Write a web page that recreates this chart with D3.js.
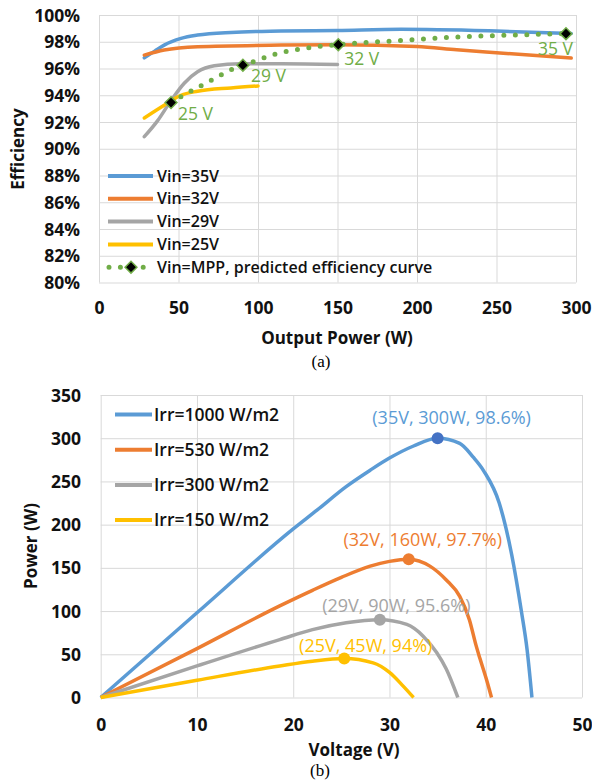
<!DOCTYPE html>
<html>
<head>
<meta charset="utf-8">
<script src="https://cdn.jsdelivr.net/npm/d3@7"></script>
<style>
  body { margin: 0; background: #fff; }
  svg { display: block; }
</style>
</head>
<body>
<svg id="fig" width="592" height="780"></svg>
<script>
// ---- (a) efficiency vs output power ----
const powerTicks = [0, 50, 100, 150, 200, 250, 300]
const effTicks = [80, 82, 84, 86, 88, 90, 92, 94, 96, 98, 100]
const effNames = ["Vin=35V", "Vin=32V", "Vin=29V", "Vin=25V"]
const eff35 = [[28.5, 96.8], [35, 97.3], [41, 97.75], [51.6, 98.25], [62, 98.5], [83, 98.7], [114.5, 98.8], [150, 98.85], [190, 98.93], [250, 98.8], [297, 98.62]]
const eff32 = [[28.5, 97.0], [41, 97.38], [62, 97.63], [114.5, 97.75], [150, 97.78], [200, 97.65], [225, 97.4], [250, 97.18], [297, 96.78]]
const eff29 = [[28.5, 90.9], [36.9, 92.1], [45.3, 93.6], [53.6, 94.9], [62, 95.75], [72.5, 96.2], [89, 96.35], [115, 96.35], [150, 96.3]]
const eff25 = [[28.5, 92.3], [41, 93.25], [51.6, 94.0], [62, 94.3], [83, 94.55], [100, 94.7]]
const mppName = "Vin=MPP, predicted efficiency curve"
const mppCurve = [[45.3, 93.45], [51.6, 93.9], [70.4, 95.1], [83, 95.9], [90.5, 96.25], [96.7, 96.5], [110, 97.05], [124, 97.4], [138, 97.65], [150.5, 97.78], [160.6, 97.88], [188, 98.08], [217, 98.3], [246.5, 98.45], [275, 98.55], [293.7, 98.6]]
const mppPoints = [[45.3, 93.45], [90.5, 96.25], [150.5, 97.78], [293.7, 98.6]]
const mppLabels = ["25 V", "29 V", "32 V", "35 V"]

// ---- (b) PV power vs voltage ----
const voltTicks = [0, 10, 20, 30, 40, 50]
const pvPowerTicks = [0, 50, 100, 150, 200, 250, 300, 350]
const irrNames = ["Irr=1000 W/m2", "Irr=530 W/m2", "Irr=300 W/m2", "Irr=150 W/m2"]
const pv1000 = [[0, 0], [10, 98], [20, 195], [22.5, 217], [25.5, 244], [28, 263], [30, 277], [32.5, 291], [35, 300], [37.3, 294], [38.7, 278], [39.8, 262], [41.4, 225], [42.7, 165], [43.7, 100], [44.3, 55], [44.8, 0]]
const pv530 = [[0, 0], [10, 56.5], [18.6, 106], [22, 124], [25, 139], [28, 152], [30, 157.5], [32, 160], [34.2, 152], [35.9, 136], [37.3, 117], [38.3, 90], [39, 60], [39.4, 45], [40.1, 20], [40.6, 0]]
const pv300 = [[0, 0], [10, 36.5], [18.6, 67], [22, 78.5], [25.5, 86.5], [29, 90], [31.8, 84.5], [33.5, 71], [34.9, 52], [35.9, 33], [37.1, 0]]
const pv150 = [[0, 0], [10, 20], [18.6, 36.5], [22, 42], [25.3, 45], [28.3, 40], [30, 29], [31.4, 13.5], [32.5, 0]]
const pvPeaks = [[35, 300], [32, 160], [29, 90], [25.3, 45]]
const peakLabels = ["(35V, 300W, 98.6%)", "(32V, 160W, 97.7%)", "(29V, 90W, 95.6%)", "(25V, 45W, 94%)"]

// ---- look ----
const FONT = '"Open Sans", "DejaVu Sans", sans-serif'
const colors = ["#5B9BD5", "#ED7D31", "#A5A5A5", "#FFC000"]
const peakDot = ["#4472C4", "#ED7D31", "#A5A5A5", "#FFC000"]
const green = "#70AD47"
const gridColor = "#D9D9D9"
// nudges for text labels next to their points: [dx, dy, anchor]
const mppLabelPos = [[7, 11.5, "start"], [8, 11, "start"], [6, 14.5, "start"], [7, 15.5, "end"]]
const peakLabelPos = [[14, -20.5], [14, -20], [16.5, -14], [21.5, -13]]

const svg = d3.select('#fig')
svg.append('rect').attr('width', 592).attr('height', 780).attr('fill', 'white')

// draws gridlines + tick labels for one panel
function frame(x, y, xt, yt, yFmt, xLabelOff, yLabelPad) {
    const [x0, x1] = x.range(), [y0, y1] = y.range()
    svg.append('g').attr('transform', `translate(0,${y0})`)
        .call(d3.axisBottom(x).tickValues(xt).tickSize(-(y0 - y1)).tickFormat(''))
        .call(g => g.select('.domain').remove())
        .selectAll('line').attr('stroke', gridColor)
    svg.append('g').attr('transform', `translate(${x0},0)`)
        .call(d3.axisLeft(y).tickValues(yt).tickSize(-(x1 - x0)).tickFormat(''))
        .call(g => g.select('.domain').remove())
        .selectAll('line').attr('stroke', gridColor)

    svg.append('g').attr('transform', `translate(0,${y0})`)
        .call(d3.axisBottom(x).tickValues(xt).tickSize(0))
        .call(g => g.select('.domain').remove())
        .attr('font-family', FONT).attr('font-size', 17.5).attr('font-weight', 700)
        .selectAll('text').attr('fill', '#111').attr('y', xLabelOff).attr('dy', '0.35em')
    svg.append('g').attr('transform', `translate(${x0},0)`)
        .call(d3.axisLeft(y).tickValues(yt).tickSize(0).tickPadding(yLabelPad).tickFormat(yFmt))
        .call(g => g.select('.domain').remove())
        .attr('font-family', FONT).attr('font-size', 17.5).attr('font-weight', 700)
        .selectAll('text').attr('fill', '#111').attr('dy', '0.35em')
}

function axisTitle(txt, x, y, rotate) {
    svg.append('text')
        .attr('transform', `translate(${x},${y})` + (rotate ? ' rotate(-90)' : ''))
        .attr('text-anchor', 'middle').attr('dy', '0.35em')
        .attr('font-family', FONT).attr('font-size', 17).attr('font-weight', 700)
        .attr('fill', '#111').text(txt)
}

function caption(txt, x, y) {
    svg.append('text').attr('x', x).attr('y', y).attr('text-anchor', 'middle')
        .attr('font-family', '"Liberation Serif", "Times New Roman", serif')
        .attr('font-size', 17).attr('fill', '#000').text(txt)
}

// ================= panel (a) =================
const xA = d3.scaleLinear().domain([0, 300]).range([99, 576])
const yA = d3.scaleLinear().domain([80, 100]).range([282.5, 15])
frame(xA, yA, powerTicks, effTicks, d => d + '%', 25.5, 19)

const lineA = d3.line().x(d => xA(d[0])).y(d => yA(d[1])).curve(d3.curveMonotoneX)
const effData = [eff35, eff32, eff29, eff25]
svg.append('g').selectAll('path').data(effData).join('path')
    .attr('d', lineA).attr('fill', 'none')
    .attr('stroke', (d, i) => colors[i]).attr('stroke-width', 3.5)
    .attr('stroke-linecap', 'round').attr('stroke-linejoin', 'round')

svg.append('path').datum(mppCurve).attr('d', lineA).attr('fill', 'none')
    .attr('stroke', green).attr('stroke-width', 5)
    .attr('stroke-linecap', 'round').attr('stroke-dasharray', '0 11.5')

const diamond = d3.symbol(d3.symbolSquare, 70)
svg.append('g').selectAll('path').data(mppPoints).join('path')
    .attr('d', diamond)
    .attr('transform', d => `translate(${xA(d[0])},${yA(d[1])}) rotate(45)`)
    .attr('fill', '#000').attr('stroke', green).attr('stroke-width', 1.5)

svg.append('g').selectAll('text').data(mppPoints).join('text')
    .attr('x', (d, i) => xA(d[0]) + mppLabelPos[i][0])
    .attr('y', (d, i) => yA(d[1]) + mppLabelPos[i][1])
    .attr('dy', '0.35em').attr('text-anchor', (d, i) => mppLabelPos[i][2])
    .attr('font-family', FONT).attr('font-size', 17.5)
    .attr('fill', green).text((d, i) => mppLabels[i])

// legend (a)
const legA = svg.append('g').attr('font-family', FONT).attr('font-size', 16).attr('font-weight', 600)
effNames.forEach((name, i) => {
    const yy = 176 + i * 22.8
    legA.append('line').attr('x1', 108).attr('x2', 153).attr('y1', yy).attr('y2', yy)
        .attr('stroke', colors[i]).attr('stroke-width', 4)
    legA.append('text').attr('x', 157).attr('y', yy).attr('dy', '0.35em').attr('fill', '#111').text(name)
})
{
    const yy = 176 + 4 * 22.8
    legA.append('line').attr('x1', 109).attr('x2', 144).attr('y1', yy).attr('y2', yy)
        .attr('stroke', green).attr('stroke-width', 5)
        .attr('stroke-linecap', 'round').attr('stroke-dasharray', '0 11.4')
    legA.append('path').attr('d', diamond)
        .attr('transform', `translate(131,${yy}) rotate(45)`)
        .attr('fill', '#000').attr('stroke', green).attr('stroke-width', 1.5)
    legA.append('text').attr('x', 157).attr('y', yy).attr('dy', '0.35em').attr('fill', '#111').text(mppName)
}

axisTitle('Efficiency', 18, 149, true)
axisTitle('Output Power (W)', 337, 338, false)
caption('(a)', 321, 367)

// ================= panel (b) =================
const xB = d3.scaleLinear().domain([0, 50]).range([100.7, 582])
const yB = d3.scaleLinear().domain([0, 350]).range([697.5, 395])
frame(xB, yB, voltTicks, pvPowerTicks, d => d, 27.5, 19.7)

const lineB = d3.line().x(d => xB(d[0])).y(d => yB(d[1])).curve(d3.curveMonotoneX)
const pvData = [pv1000, pv530, pv300, pv150]
svg.append('g').selectAll('path').data(pvData).join('path')
    .attr('d', lineB).attr('fill', 'none')
    .attr('stroke', (d, i) => colors[i]).attr('stroke-width', 3.5)
    .attr('stroke-linejoin', 'round')

svg.append('g').selectAll('circle').data(pvPeaks).join('circle')
    .attr('cx', d => xB(d[0])).attr('cy', d => yB(d[1])).attr('r', 6)
    .attr('fill', (d, i) => peakDot[i])

svg.append('g').selectAll('text').data(pvPeaks).join('text')
    .attr('x', (d, i) => xB(d[0]) + peakLabelPos[i][0])
    .attr('y', (d, i) => yB(d[1]) + peakLabelPos[i][1])
    .attr('dy', '0.35em').attr('text-anchor', 'middle')
    .attr('font-family', FONT).attr('font-size', 18)
    .attr('fill', (d, i) => colors[i]).text((d, i) => peakLabels[i])

// legend (b)
const legB = svg.append('g').attr('font-family', FONT).attr('font-size', 17.5).attr('font-weight', 600)
irrNames.forEach((name, i) => {
    const yy = 414.5 + i * 35.2
    legB.append('line').attr('x1', 115).attr('x2', 152).attr('y1', yy).attr('y2', yy)
        .attr('stroke', colors[i]).attr('stroke-width', 4)
    legB.append('text').attr('x', 154).attr('y', yy).attr('dy', '0.35em').attr('fill', '#111').text(name)
})

axisTitle('Power (W)', 31, 546, true)
axisTitle('Voltage (V)', 354, 750, false)
caption('(b)', 320, 776)
</script>
</body>
</html>
